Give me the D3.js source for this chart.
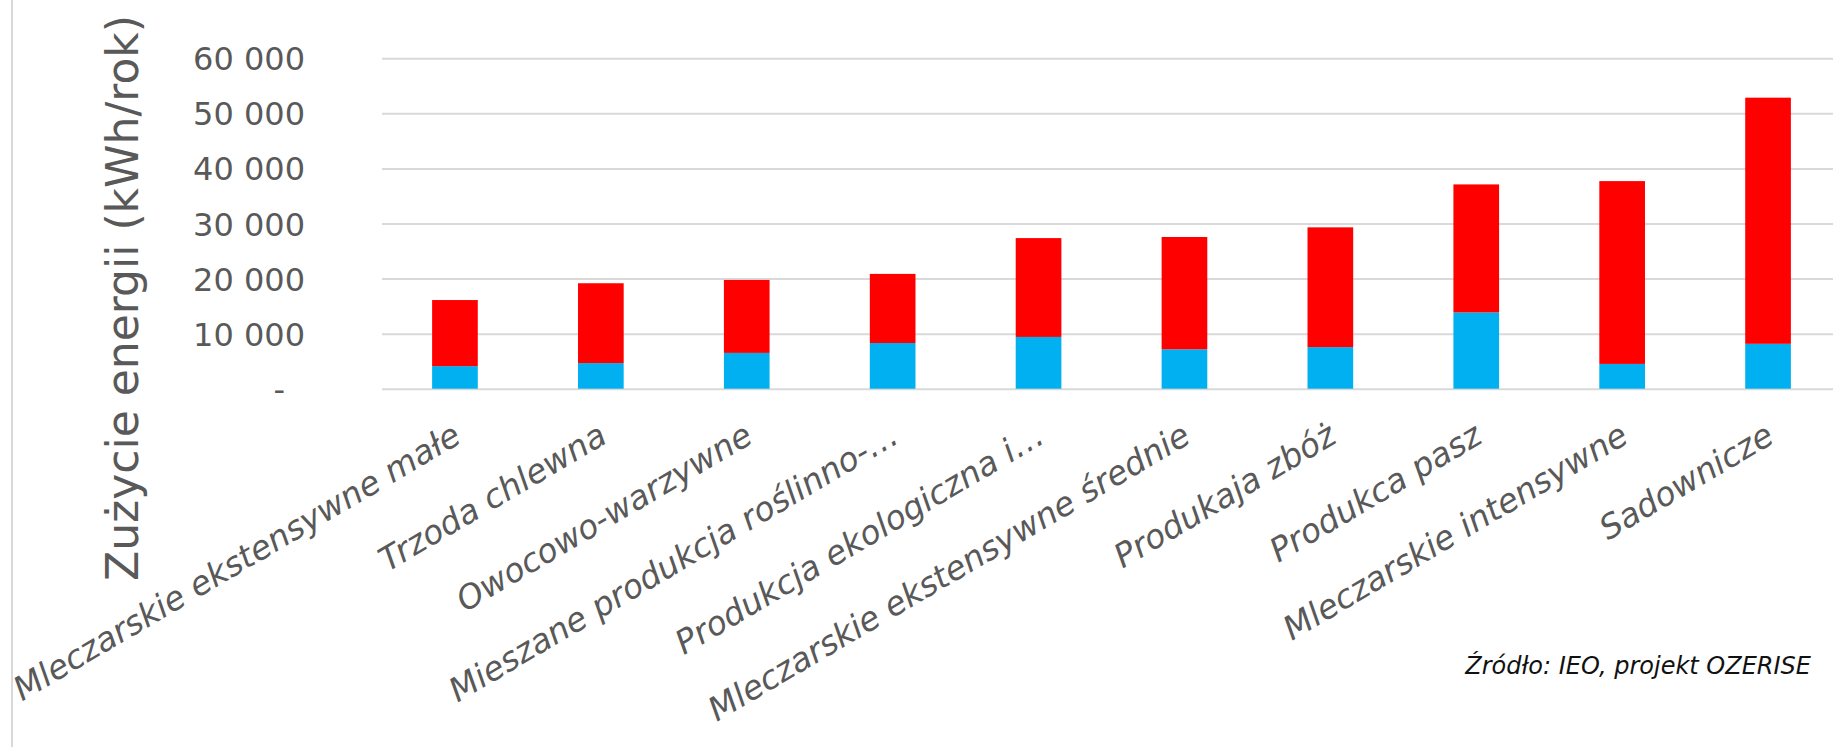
<!DOCTYPE html>
<html>
<head>
<meta charset="utf-8">
<script src="https://cdn.jsdelivr.net/npm/d3@7"></script>
<style>
  html, body { margin: 0; padding: 0; background: #fff; }
  svg { display: block; }
</style>
</head>
<body>
<svg id="chart" width="1833" height="747"></svg>
<script>
// Farm types (category axis)
const categories = [
  "Mleczarskie ekstensywne małe",
  "Trzoda chlewna",
  "Owocowo-warzywne",
  "Mieszane produkcja roślinno-…",
  "Produkcja ekologiczna i…",
  "Mleczarskie ekstensywne średnie",
  "Produkaja zbóż",
  "Produkca pasz",
  "Mleczarskie intensywne",
  "Sadownicze"
];

// Annual energy use per farm type, kWh/rok – lower (blue) and upper (red) stack segments
const lowerValues = [4100, 4650, 6500, 8300, 9400, 7150, 7550, 13850, 4500, 8150];
const upperValues = [12000, 14500, 13250, 12550, 17950, 20400, 21750, 23250, 33200, 44700];

// Value axis ticks and their labels
const yTicks = [0, 10000, 20000, 30000, 40000, 50000, 60000];
const yTickLabels = ["-", "10 000", "20 000", "30 000", "40 000", "50 000", "60 000"];

const seriesKeys = ["lower", "upper"];
const seriesColors = ["#00b0f0", "#ff0000"];

const rows = categories.map((c, i) => ({ category: c, lower: lowerValues[i], upper: upperValues[i] }));

const svg = d3.select("#chart");
const W = 1833, H = 747;
const plot = { left: 382, right: 1841, top: 58.3, bottom: 388.7 };
const textGrey = "#595959";

svg.append("rect").attr("width", W).attr("height", H).attr("fill", "#fff");

// Chart-area border on the left side
svg.append("line")
  .attr("x1", 12).attr("x2", 12).attr("y1", 0).attr("y2", H)
  .attr("stroke", "#d9d9d9").attr("stroke-width", 2);

const x = d3.scaleBand()
  .domain(categories)
  .range([plot.left, plot.right])
  .paddingInner(0.687)
  .paddingOuter(0.3435);

const y = d3.scaleLinear()
  .domain([0, 60000])
  .range([plot.bottom, plot.top]);

// Horizontal gridlines
const yAxis = d3.axisLeft(y)
  .tickValues(yTicks)
  .tickSize(-(W - plot.left))
  .tickFormat((d, i) => yTickLabels[i]);

const gy = svg.append("g")
  .attr("transform", `translate(${plot.left},0)`)
  .call(yAxis);
gy.select(".domain").remove();
gy.selectAll(".tick line").attr("stroke", "#d9d9d9").attr("stroke-width", 2);
gy.selectAll(".tick text")
  .attr("x", -77)
  .attr("dy", "0.36em")
  .attr("fill", textGrey)
  .style("font-family", "'DejaVu Sans', sans-serif")
  .style("font-size", "32px")
  .filter(d => d === 0).attr("x", -97);

// Stacked bars
const stacked = d3.stack().keys(seriesKeys)(rows);
svg.append("g")
  .selectAll("g")
  .data(stacked)
  .join("g")
  .attr("fill", (d, i) => seriesColors[i])
  .selectAll("rect")
  .data(d => d)
  .join("rect")
  .attr("x", d => x(d.data.category))
  .attr("width", x.bandwidth())
  .attr("y", d => y(d[1]))
  .attr("height", d => y(d[0]) - y(d[1]));

// Category labels, slanted
const xAxis = d3.axisBottom(x).tickSize(0).tickPadding(0);
const gx = svg.append("g")
  .attr("transform", `translate(0,${plot.bottom})`)
  .call(xAxis);
gx.select(".domain").remove();
gx.selectAll(".tick text")
  .attr("text-anchor", "end")
  .attr("transform", "translate(8,53) rotate(-30.5)")
  .attr("x", 0).attr("y", 0).attr("dy", 0)
  .attr("fill", textGrey)
  .style("font-family", "'DejaVu Sans', sans-serif")
  .style("font-style", "italic")
  .style("font-size", "33px");

// Value axis title
svg.append("text")
  .attr("transform", "translate(138,298) rotate(-90)")
  .attr("text-anchor", "middle")
  .attr("fill", textGrey)
  .style("font-family", "'DejaVu Sans', sans-serif")
  .style("font-size", "44px")
  .text("Zużycie energii (kWh/rok)");

// Source note
svg.append("text")
  .attr("x", 1811).attr("y", 674)
  .attr("text-anchor", "end")
  .attr("fill", "#111")
  .style("font-family", "'DejaVu Sans', sans-serif")
  .style("font-style", "italic")
  .style("font-size", "24px")
  .text("Źródło: IEO, projekt OZERISE");
</script>
</body>
</html>
